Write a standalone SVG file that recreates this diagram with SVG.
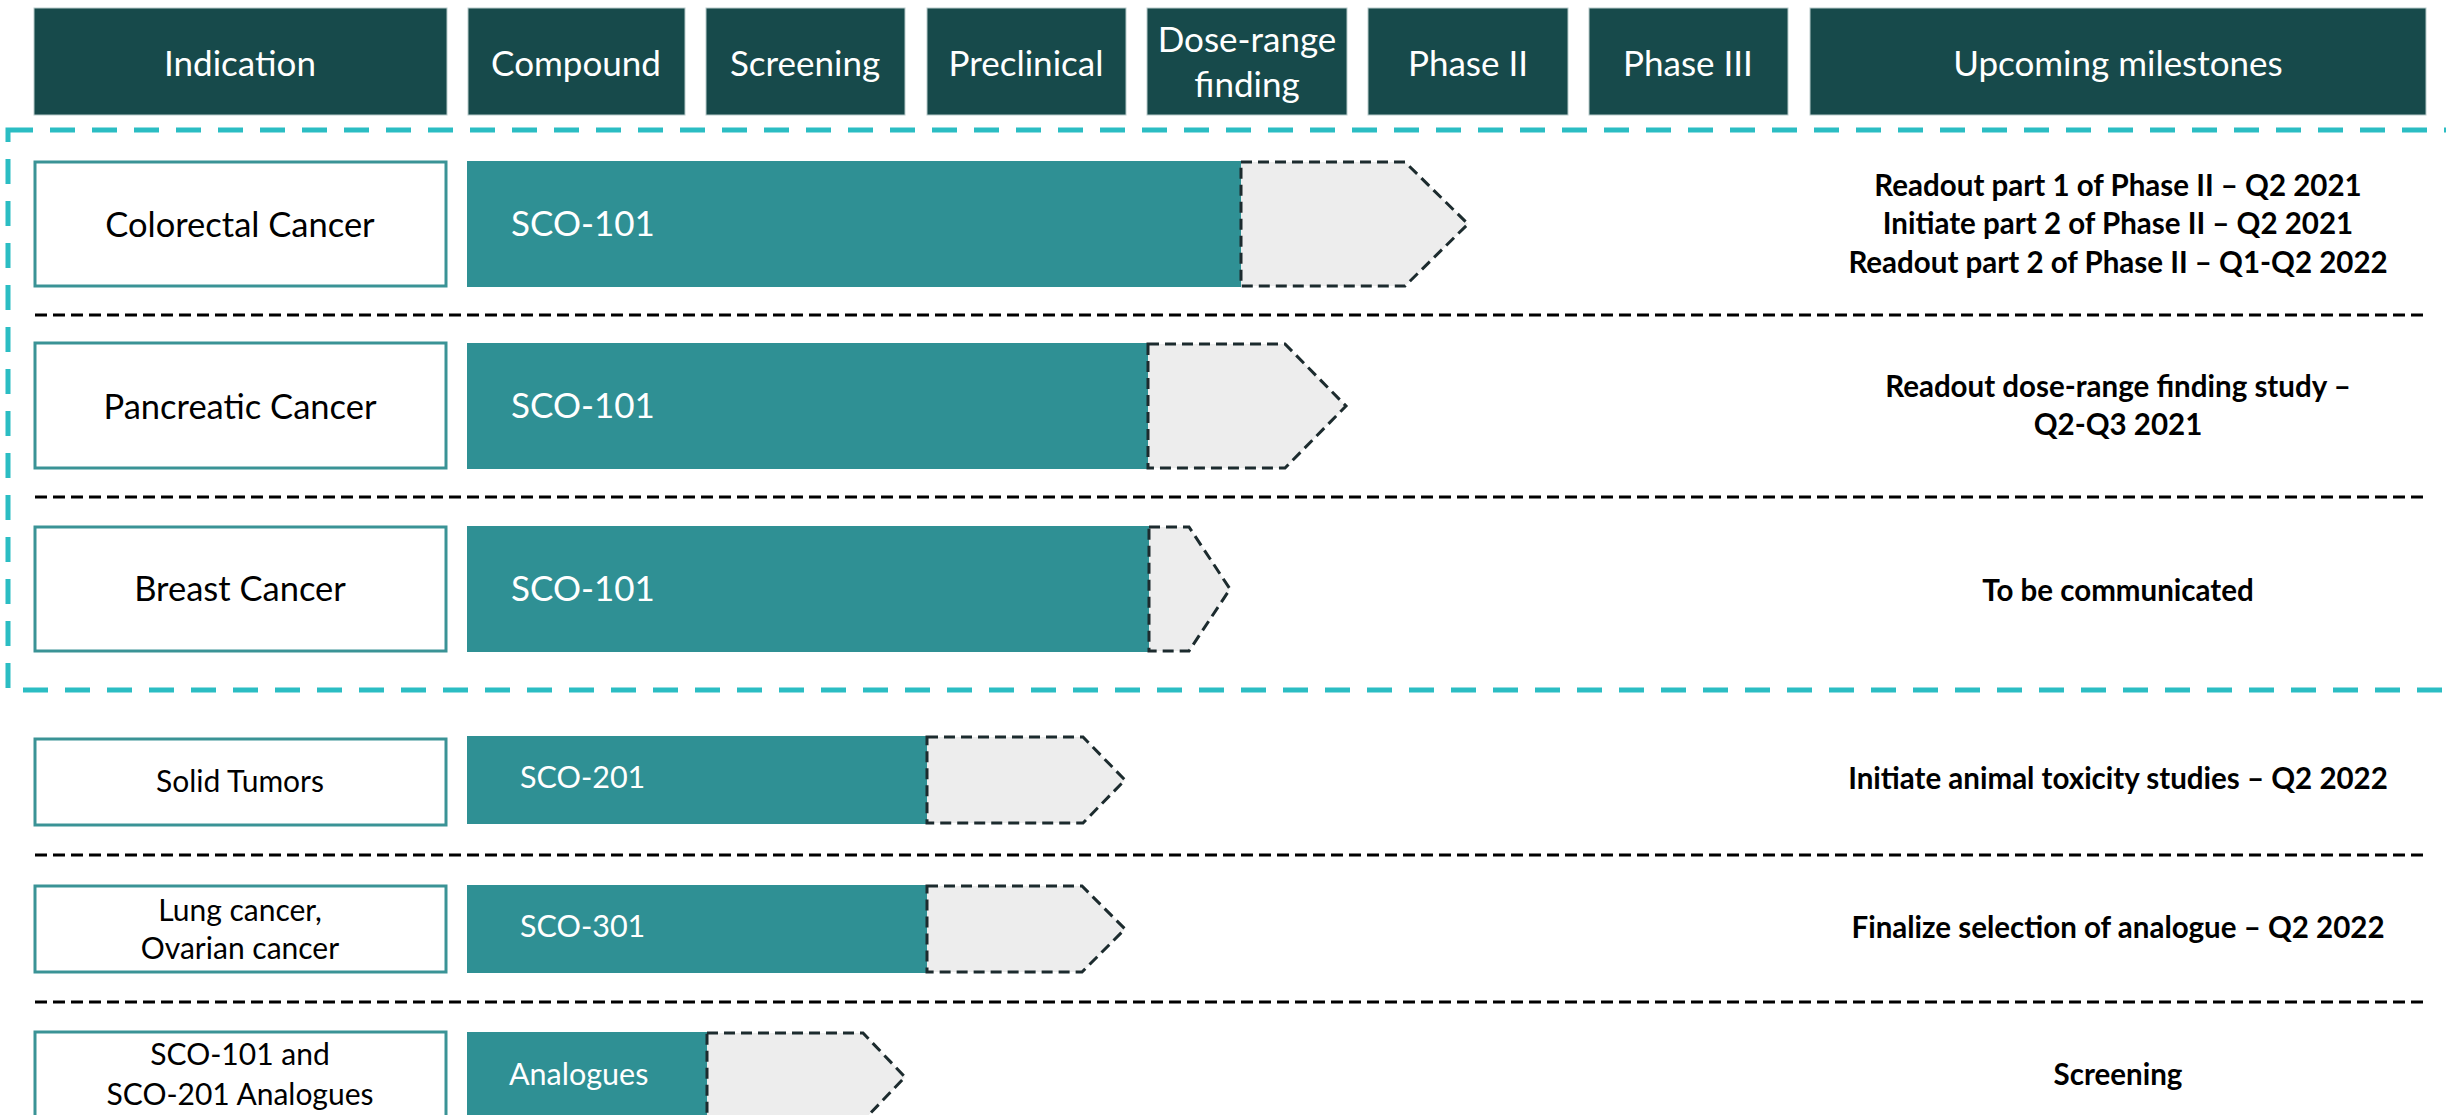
<svg xmlns="http://www.w3.org/2000/svg" width="2446" height="1115" viewBox="0 0 2446 1115">
<style>
.hdr{fill:#174A4B;stroke:#B9CBCB;stroke-width:1}
.ht{font-family:Lato,"Liberation Sans",sans-serif;font-size:35px;fill:#FFFFFF;text-anchor:middle}
.lbl{fill:#FFFFFF;stroke:#3A9396;stroke-width:3}
.lt{font-family:Lato,"Liberation Sans",sans-serif;font-size:34.5px;fill:#000000;text-anchor:middle}
.lts{font-size:30px}
.bar{fill:#2F9094}
.bt{font-family:Lato,"Liberation Sans",sans-serif;font-size:35px;fill:#FFFFFF}
.bts{font-size:30.5px}
.fut{fill:#EDEDED;stroke:#1C2B2E;stroke-width:3;stroke-dasharray:11 6}
.sep{stroke:#000000;stroke-width:3;stroke-dasharray:12 6;fill:none}
.grp{fill:none;stroke:#2BBDC3;stroke-width:5;stroke-dasharray:25 17}
.ms{font-family:Lato,"Liberation Sans",sans-serif;font-size:29.5px;font-weight:bold;fill:#000000;text-anchor:middle}
</style>
<g id="headers">
<g id="h-indication"><rect class="hdr" x="34" y="8" width="413" height="107"/><text class="ht" x="240" y="76">Indication</text></g>
<g id="h-compound"><rect class="hdr" x="468" y="8" width="217" height="107"/><text class="ht" x="576" y="76">Compound</text></g>
<g id="h-screening"><rect class="hdr" x="706" y="8" width="199" height="107"/><text class="ht" x="805" y="76">Screening</text></g>
<g id="h-preclinical"><rect class="hdr" x="927" y="8" width="199" height="107"/><text class="ht" x="1026" y="76">Preclinical</text></g>
<g id="h-dose"><rect class="hdr" x="1147" y="8" width="200" height="107"/><text class="ht" x="1247" y="52">Dose-range</text><text class="ht" x="1247" y="97">finding</text></g>
<g id="h-phase2"><rect class="hdr" x="1368" y="8" width="200" height="107"/><text class="ht" x="1468" y="76">Phase II</text></g>
<g id="h-phase3"><rect class="hdr" x="1589" y="8" width="199" height="107"/><text class="ht" x="1688" y="76">Phase III</text></g>
<g id="h-milestones"><rect class="hdr" x="1810" y="8" width="616" height="107"/><text class="ht" x="2118" y="76">Upcoming milestones</text></g>
</g>
<g id="connectors">
<rect class="grp" x="8" y="130" width="2470" height="560"/>
<line class="sep" x1="35" y1="315" x2="2425" y2="315"/>
<line class="sep" x1="35" y1="497" x2="2425" y2="497"/>
<line class="sep" x1="35" y1="855" x2="2425" y2="855"/>
<line class="sep" x1="35" y1="1002" x2="2425" y2="1002"/>
</g>
<g id="row-colorectal">
<rect class="lbl" x="35" y="162" width="411" height="124"/>
<text class="lt" x="240" y="237">Colorectal Cancer</text>
<rect class="bar" x="467" y="161" width="774" height="126"/>
<text class="bt" x="511" y="236">SCO-101</text>
<polygon class="fut" points="1241,162 1405,162 1468,224 1405,286 1241,286"/>
<text class="ms" x="2118" y="196">Readout part 1 of Phase II – Q2 2021</text>
<text class="ms" x="2118" y="234">Initiate part 2 of Phase II – Q2 2021</text>
<text class="ms" x="2118" y="273">Readout part 2 of Phase II – Q1-Q2 2022</text>
</g>
<g id="row-pancreatic">
<rect class="lbl" x="35" y="343" width="411" height="125"/>
<text class="lt" x="240" y="419">Pancreatic Cancer</text>
<rect class="bar" x="467" y="343" width="681" height="126"/>
<text class="bt" x="511" y="418">SCO-101</text>
<polygon class="fut" points="1148,344 1285,344 1346,406 1285,468 1148,468"/>
<text class="ms" x="2118" y="397">Readout dose-range finding study –</text>
<text class="ms" x="2118" y="435">Q2-Q3 2021</text>
</g>
<g id="row-breast">
<rect class="lbl" x="35" y="527" width="411" height="124"/>
<text class="lt" x="240" y="601">Breast Cancer</text>
<rect class="bar" x="467" y="526" width="682" height="126"/>
<text class="bt" x="511" y="601">SCO-101</text>
<polygon class="fut" points="1149,527 1189,527 1230,589 1189,651 1149,651"/>
<text class="ms" x="2118" y="601">To be communicated</text>
</g>
<g id="row-solid">
<rect class="lbl" x="35" y="739" width="411" height="86"/>
<text class="lt lts" x="240" y="792">Solid Tumors</text>
<rect class="bar" x="467" y="736" width="460" height="88"/>
<text class="bt bts" x="520" y="788">SCO-201</text>
<polygon class="fut" points="927,737 1083,737 1125,780 1083,823 927,823"/>
<text class="ms" x="2118" y="789">Initiate animal toxicity studies – Q2 2022</text>
</g>
<g id="row-lung">
<rect class="lbl" x="35" y="886" width="411" height="86"/>
<text class="lt lts" x="240" y="921">Lung cancer,</text>
<text class="lt lts" x="240" y="959">Ovarian cancer</text>
<rect class="bar" x="467" y="885" width="460" height="88"/>
<text class="bt bts" x="520" y="937">SCO-301</text>
<polygon class="fut" points="927,886 1082,886 1125,929 1082,972 927,972"/>
<text class="ms" x="2118" y="938">Finalize selection of analogue – Q2 2022</text>
</g>
<g id="row-analogues">
<rect class="lbl" x="35" y="1032" width="411" height="100"/>
<text class="lt lts" x="240" y="1065">SCO-101 and</text>
<text class="lt lts" x="240" y="1105">SCO-201 Analogues</text>
<rect class="bar" x="467" y="1032" width="240" height="100"/>
<text class="bt bts" x="509" y="1085">Analogues</text>
<polygon class="fut" points="707,1033 863,1033 905,1077 863,1121 707,1121"/>
<text class="ms" x="2118" y="1085">Screening</text>
</g>
</svg>
